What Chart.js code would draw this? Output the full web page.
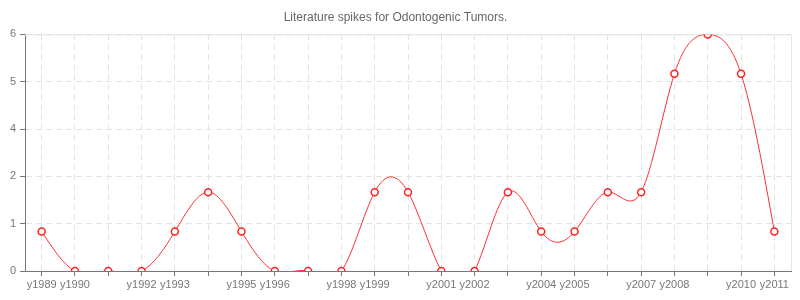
<!DOCTYPE html>
<html>
<head>
<meta charset="utf-8">
<script src="https://cdn.jsdelivr.net/npm/chart.js@4/dist/chart.umd.min.js"></script>
<style>
  html, body { margin: 0; padding: 0; background: #fff; }
  #wrap { width: 800px; height: 300px; }
</style>
</head>
<body>
<div id="wrap"><canvas id="chart"></canvas></div>
<script>
// data
const years = ['y1989', 'y1990', 'y1991', 'y1992', 'y1993', 'y1994', 'y1995', 'y1996',
    'y1997', 'y1998', 'y1999', 'y2000', 'y2001', 'y2002', 'y2003', 'y2004', 'y2005',
    'y2006', 'y2007', 'y2008', 'y2009', 'y2010', 'y2011'];
const spikes = [1, 0, 0, 0, 1, 2, 1, 0, 0, 0, 2, 2, 0, 0, 2, 1, 1, 2, 2, 5, 6, 5, 1];
const yTickLabels = ['0', '1', '2', '4', '5', '6'];

const font = { family: 'Liberation Sans', size: 11 };

// light frame on top and right of the plot area
const framePlugin = {
    id: 'frame',
    beforeDatasetsDraw(chart) {
        const { ctx, chartArea } = chart;
        ctx.save();
        ctx.strokeStyle = '#e6e6e6';
        ctx.lineWidth = 1;
        ctx.beginPath();
        ctx.moveTo(chartArea.left, chartArea.top + 0.5);
        ctx.lineTo(chartArea.right + 0.5, chartArea.top + 0.5);
        ctx.lineTo(chartArea.right + 0.5, chartArea.bottom);
        ctx.stroke();
        ctx.restore();
    }
};

// the original curve is a natural cubic spline, so swap chart.js control points for those
const naturalSpline = {
    id: 'naturalSpline',
    beforeDatasetDraw(chart, args) {
        const meta = args.meta;
        const pts = meta.data;
        const n = pts.length;
        if (n < 3) return;
        meta.dataset.updateControlPoints(chart.chartArea, 'x');

        const h = pts[1].x - pts[0].x;
        const M = new Array(n).fill(0);
        const cp = [], dp = [];
        for (let i = 1; i < n - 1; i++) {
            const r = 6 * (pts[i + 1].y - 2 * pts[i].y + pts[i - 1].y) / (h * h);
            const m = i === 1 ? 4 : 4 - cp[i - 1];
            cp[i] = 1 / m;
            dp[i] = (r - (i === 1 ? 0 : dp[i - 1])) / m;
        }
        M[n - 2] = dp[n - 2];
        for (let i = n - 3; i >= 1; i--) {
            M[i] = dp[i] - cp[i] * M[i + 1];
        }

        for (let i = 0; i < n - 1; i++) {
            const p0 = pts[i], p1 = pts[i + 1];
            const lin = (p1.y - p0.y) / h;
            const s0 = lin - h * (2 * M[i] + M[i + 1]) / 6;
            const s1 = lin + h * (M[i] + 2 * M[i + 1]) / 6;
            p0.cp2x = p0.x + h / 3;
            p0.cp2y = p0.y + s0 * h / 3;
            p1.cp1x = p1.x - h / 3;
            p1.cp1y = p1.y - s1 * h / 3;
        }
        meta.dataset._path = undefined;
    }
};

new Chart(document.getElementById('chart'), {
    type: 'line',
    data: {
        labels: years,
        datasets: [{
            label: 'Spikes',
            data: spikes,
            borderColor: '#ff3030',
            borderWidth: 1,
            tension: 0.4,
            pointRadius: 3.5,
            pointBorderWidth: 1.5,
            pointBackgroundColor: '#ffffff',
            pointBorderColor: '#ff2020',
            fill: false
        }]
    },
    options: {
        responsive: true,
        maintainAspectRatio: false,
        animation: false,
        layout: { padding: { left: 0, right: 9, bottom: 0 } },
        plugins: {
            legend: { display: false },
            tooltip: { enabled: false },
            title: {
                display: true,
                text: 'Literature spikes for Odontogenic Tumors.',
                color: '#666',
                font: { family: 'Liberation Sans', size: 12, weight: 'normal' },
                padding: { top: 10, bottom: 10 }
            }
        },
        scales: {
            x: {
                offset: true,
                grid: {
                    offset: false,
                    color: '#e3e3e3',
                    tickColor: '#777',
                    tickLength: 5,
                    drawOnChartArea: true
                },
                border: { color: '#777', dash: [6, 4] },
                ticks: {
                    color: '#777',
                    font: font,
                    autoSkip: false,
                    maxRotation: 0,
                    padding: 2,
                    callback: function (value, index) {
                        return index % 3 === 2 ? '' : years[index];
                    }
                },
                afterFit: scale => { scale.height = 29; }
            },
            y: {
                min: 0,
                max: 6,
                grid: {
                    color: '#e3e3e3',
                    tickColor: '#777',
                    tickLength: 5
                },
                border: { color: '#777', dash: [6, 4] },
                ticks: {
                    stepSize: 1.2,
                    color: '#777',
                    font: font,
                    padding: 4,
                    callback: function (value, index) {
                        return yTickLabels[index];
                    }
                },
                afterFit: scale => { scale.width = 25; }
            }
        }
    },
    plugins: [framePlugin, naturalSpline]
});
</script>
</body>
</html>
